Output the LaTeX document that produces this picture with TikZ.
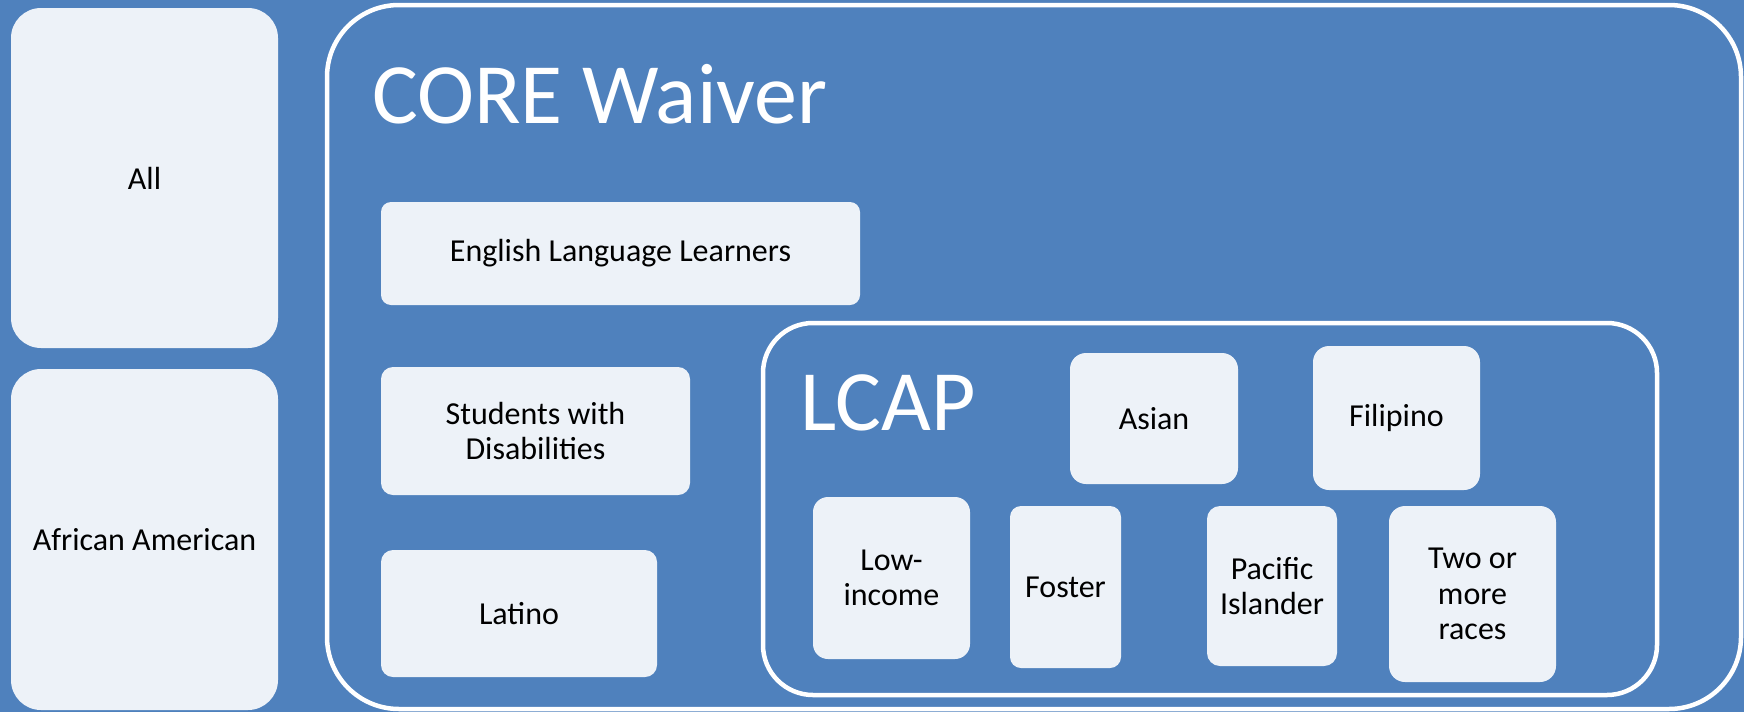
\documentclass[tikz,border=0pt]{standalone}
\usepackage{fontspec}
\setmainfont{Carlito}
\definecolor{bgblue}{HTML}{4F81BD}
\definecolor{boxfill}{HTML}{EDF2F8}

\tikzset{
  grp/.style={rectangle, fill=boxfill, text=black, align=center, inner sep=0pt,
    font=\fontsize{32}{35.5}\selectfont},
  frame/.style={rectangle, draw=white, line width=4.5pt, inner sep=0pt},
  title/.style={text=white, anchor=base west, inner sep=0pt,
    font=\fontsize{86}{92}\selectfont},
}

\begin{document}
\begin{tikzpicture}[x=1pt,y=-1pt]
  \fill [bgblue] (0,0) rectangle (1744,712);
  \useasboundingbox (0,0) rectangle (1744,712);

  % the two containers
  \node [frame, minimum width=1414pt, minimum height=704pt, rounded corners=72pt] (core) at (1034,357) {};
  \node [frame, minimum width=894pt, minimum height=372pt, rounded corners=50pt] (lcap) at (1210,509) {};
  \node [title] (coretitle) at (372,123) {CORE Waiver};
  \node [title, font=\fontsize{86}{92}\selectfont] (lcaptitle) at (800,430) {LCAP};

  % left column
  \node [grp, minimum width=267pt, minimum height=340pt, rounded corners=30pt] (all) at (144.5,178) {All};
  \node [grp, minimum width=267pt, minimum height=341pt, rounded corners=30pt] (afam) at (144.5,539.5) {African American};

  % CORE only
  \node [grp, minimum width=479pt, minimum height=103pt, rounded corners=10pt] (ell) at (620.5,253.5) {English Language Learners};
  \node [grp, minimum width=309pt, minimum height=128pt, rounded corners=12pt] (swd) at (535.5,431) {Students with\\Disabilities};
  \node [grp, minimum width=276pt, minimum height=127pt, rounded corners=12pt] (latino) at (519,613.5) {Latino};

  % LCAP
  \node [grp, minimum width=168pt, minimum height=131pt, rounded corners=16pt] (asian) at (1154,418.5) {Asian};
  \node [grp, minimum width=167pt, minimum height=144pt, rounded corners=16pt] (filipino) at (1396.5,418) {Filipino};
  \node [grp, minimum width=157pt, minimum height=162pt, rounded corners=15pt] (lowinc) at (891.5,578) {Low-\\income};
  \node [grp, minimum width=111pt, minimum height=162pt, rounded corners=11pt] (foster) at (1065.5,587) {Foster};
  \node [grp, minimum width=130pt, minimum height=160pt, rounded corners=13pt] (pacific) at (1272,586) {Pacific\\Islander};
  \node [grp, minimum width=167pt, minimum height=176pt, rounded corners=16pt] (tworaces) at (1472.5,594) {Two or\\more\\races};
\end{tikzpicture}
\end{document}
